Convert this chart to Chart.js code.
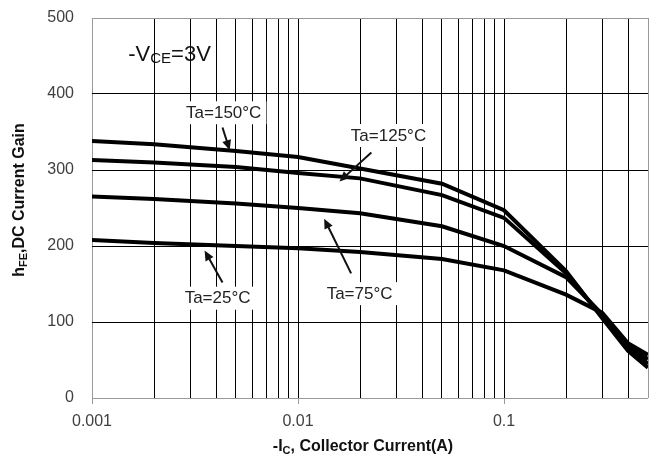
<!DOCTYPE html>
<html>
<head>
<meta charset="utf-8">
<script src="https://cdn.jsdelivr.net/npm/chart.js@4.4.0/dist/chart.umd.min.js"></script>
<style>
html, body { margin: 0; padding: 0; background: #fff; }
#wrap { width: 652px; height: 462px; }
</style>
</head>
<body>
<div id="wrap"><canvas id="chart0"></canvas></div>
<script>
// collector current (A) and hFE per ambient temperature
const currents = [0.001, 0.002, 0.005, 0.01, 0.02, 0.05, 0.1, 0.2, 0.3, 0.4, 0.5];
const gain150 = [338, 334, 325, 317, 302, 282, 247, 167, 105, 62, 40];
const gain125 = [313, 310, 304, 296, 289, 267, 237, 164, 107, 65, 45];
const gain75 = [265, 262, 256, 250, 243, 226, 200, 159, 110, 68, 51];
const gain25 = [208, 204, 200, 197, 192, 183, 168, 136, 112, 72, 57];

const xGridTicks = [0.001, 0.002, 0.003, 0.004, 0.005, 0.006, 0.007, 0.008, 0.009,
    0.01, 0.02, 0.03, 0.04, 0.05, 0.06, 0.07, 0.08, 0.09,
    0.1, 0.2, 0.3, 0.4, 0.5];
const xMajorTicks = [0.001, 0.01, 0.1];
const xTickLabels = ["0.001", "0.01", "0.1"];
const yTicks = [0, 100, 200, 300, 400, 500];

// labels with arrows, positioned in data units
const notes = [
    { text: "Ta=150°C", at: [0.00436, 376], from: [0.0043, 356], to: [0.00466, 326] },
    { text: "Ta=125°C", at: [0.0275, 346], from: [0.0227, 323], to: [0.0159, 285] },
    { text: "Ta=75°C", at: [0.0199, 138], from: [0.0181, 164], to: [0.0134, 236] },
    { text: "Ta=25°C", at: [0.00407, 132], from: [0.0043, 152], to: [0.00352, 194] },
];

function series(vals) {
    return vals.map((v, i) => ({ x: currents[i], y: v }));
}

// draw text runs with subscripts, return width
function runs(ctx, parts, x, y, measureOnly) {
    let w = 0;
    for (const p of parts) {
        ctx.font = p.font;
        if (!measureOnly) ctx.fillText(p.t, x + w, y + (p.dy || 0));
        w += ctx.measureText(p.t).width;
    }
    return w;
}

const extras = {
    id: "extras",
    afterDatasetsDraw(chart) {
        const ctx = chart.ctx;
        const xs = chart.scales.x, ys = chart.scales.y;
        ctx.save();
        ctx.textBaseline = "middle";
        ctx.fillStyle = "#222";
        ctx.strokeStyle = "#111";
        // notes
        for (const n of notes) {
            const cx = xs.getPixelForValue(n.at[0]), cy = ys.getPixelForValue(n.at[1]);
            ctx.font = "17px 'Liberation Sans', Arial, sans-serif";
            const w = ctx.measureText(n.text).width;
            ctx.fillStyle = "#fff";
            ctx.fillRect(cx - w / 2 - 5, cy - 11, w + 10, 23);
            ctx.fillStyle = "#222";
            ctx.textAlign = "center";
            ctx.fillText(n.text, cx, cy + 1);
            const x1 = xs.getPixelForValue(n.from[0]), y1 = ys.getPixelForValue(n.from[1]);
            const x2 = xs.getPixelForValue(n.to[0]), y2 = ys.getPixelForValue(n.to[1]);
            const a = Math.atan2(y2 - y1, x2 - x1);
            ctx.lineWidth = 2;
            ctx.beginPath();
            ctx.moveTo(x1, y1);
            ctx.lineTo(x2 - 6 * Math.cos(a), y2 - 6 * Math.sin(a));
            ctx.stroke();
            ctx.fillStyle = "#111";
            ctx.beginPath();
            ctx.moveTo(x2, y2);
            ctx.lineTo(x2 - 10 * Math.cos(a) + 4.5 * Math.sin(a), y2 - 10 * Math.sin(a) - 4.5 * Math.cos(a));
            ctx.lineTo(x2 - 10 * Math.cos(a) - 4.5 * Math.sin(a), y2 - 10 * Math.sin(a) + 4.5 * Math.cos(a));
            ctx.closePath();
            ctx.fill();
        }
        // -VCE=3V
        ctx.fillStyle = "#111";
        ctx.textAlign = "left";
        const big = "22px 'Liberation Sans', Arial, sans-serif";
        const small = "15px 'Liberation Sans', Arial, sans-serif";
        runs(ctx, [{ t: "-V", font: big }, { t: "CE", font: small, dy: 4 }, { t: "=3V", font: big }],
            xs.getPixelForValue(0.0015), ys.getPixelForValue(451), false);

        // axis titles
        const tb = "bold 16px 'Liberation Sans', Arial, sans-serif";
        const ts = "bold 11px 'Liberation Sans', Arial, sans-serif";
        const xt = [{ t: "-I", font: tb }, { t: "C", font: ts, dy: 4 }, { t: ", Collector Current(A)", font: tb }];
        const xw = runs(ctx, xt, 0, 0, true);
        runs(ctx, xt, 363 - xw / 2, 447, false);
        const yt = [{ t: "h", font: tb }, { t: "FE", font: ts, dy: 4 }, { t: ",DC Current Gain", font: tb }];
        const yw = runs(ctx, yt, 0, 0, true);
        ctx.translate(20, 200);
        ctx.rotate(-Math.PI / 2);
        runs(ctx, yt, -yw / 2, 0, false);
        ctx.restore();
    }
};

function line(label, vals) {
    return {
        label: label,
        data: series(vals),
        borderColor: "#000",
        borderWidth: 4,
        pointRadius: 0,
        tension: 0,
        fill: false,
    };
}

const ctx = document.getElementById("chart0").getContext("2d");
new Chart(ctx, {
    type: "line",
    data: {
        datasets: [
            line("Ta=150°C", gain150),
            line("Ta=125°C", gain125),
            line("Ta=75°C", gain75),
            line("Ta=25°C", gain25),
        ],
    },
    options: {
        responsive: true,
        maintainAspectRatio: false,
        animation: false,
        layout: { padding: { top: 18, right: 4, left: 0, bottom: 0 } },
        plugins: { legend: { display: false }, tooltip: { enabled: false } },
        scales: {
            x: {
                type: "logarithmic",
                min: 0.001,
                max: 0.5,
                afterBuildTicks: (s) => { s.ticks = xGridTicks.map(v => ({ value: v })); },
                afterFit: (s) => { s.height = 64; s.paddingLeft = 0; s.paddingRight = 0; },
                border: { display: false },
                grid: {
                    color: (c) => (c.tick && (c.tick.value === 0.001 || c.tick.value === 0.5)) ? "#999" : "#000",
                    lineWidth: 1,
                    drawTicks: true,
                    tickLength: 6,
                    tickColor: (c) => (c.tick && xMajorTicks.includes(c.tick.value)) ? "#999" : "rgba(0,0,0,0)",
                },
                ticks: {
                    autoSkip: false,
                    maxRotation: 0,
                    padding: 8,
                    color: "#404040",
                    font: { family: "'Liberation Sans', Arial, sans-serif", size: 16 },
                    callback: (v) => {
                        const i = xMajorTicks.indexOf(v);
                        return i >= 0 ? xTickLabels[i] : "";
                    },
                },
            },
            y: {
                min: 0,
                max: 500,
                afterBuildTicks: (s) => { s.ticks = yTicks.map(v => ({ value: v })); },
                afterFit: (s) => { s.width = 92; s.paddingTop = 0; s.paddingBottom = 0; },
                border: { display: false },
                grid: {
                    color: (c) => (c.tick && (c.tick.value === 0 || c.tick.value === 500)) ? "#999" : "#000",
                    lineWidth: 1,
                    drawTicks: false,
                },
                ticks: {
                    padding: 18,
                    color: "#404040",
                    font: { family: "'Liberation Sans', Arial, sans-serif", size: 16 },
                },
            },
        },
    },
    plugins: [extras],
});
</script>
</body>
</html>
